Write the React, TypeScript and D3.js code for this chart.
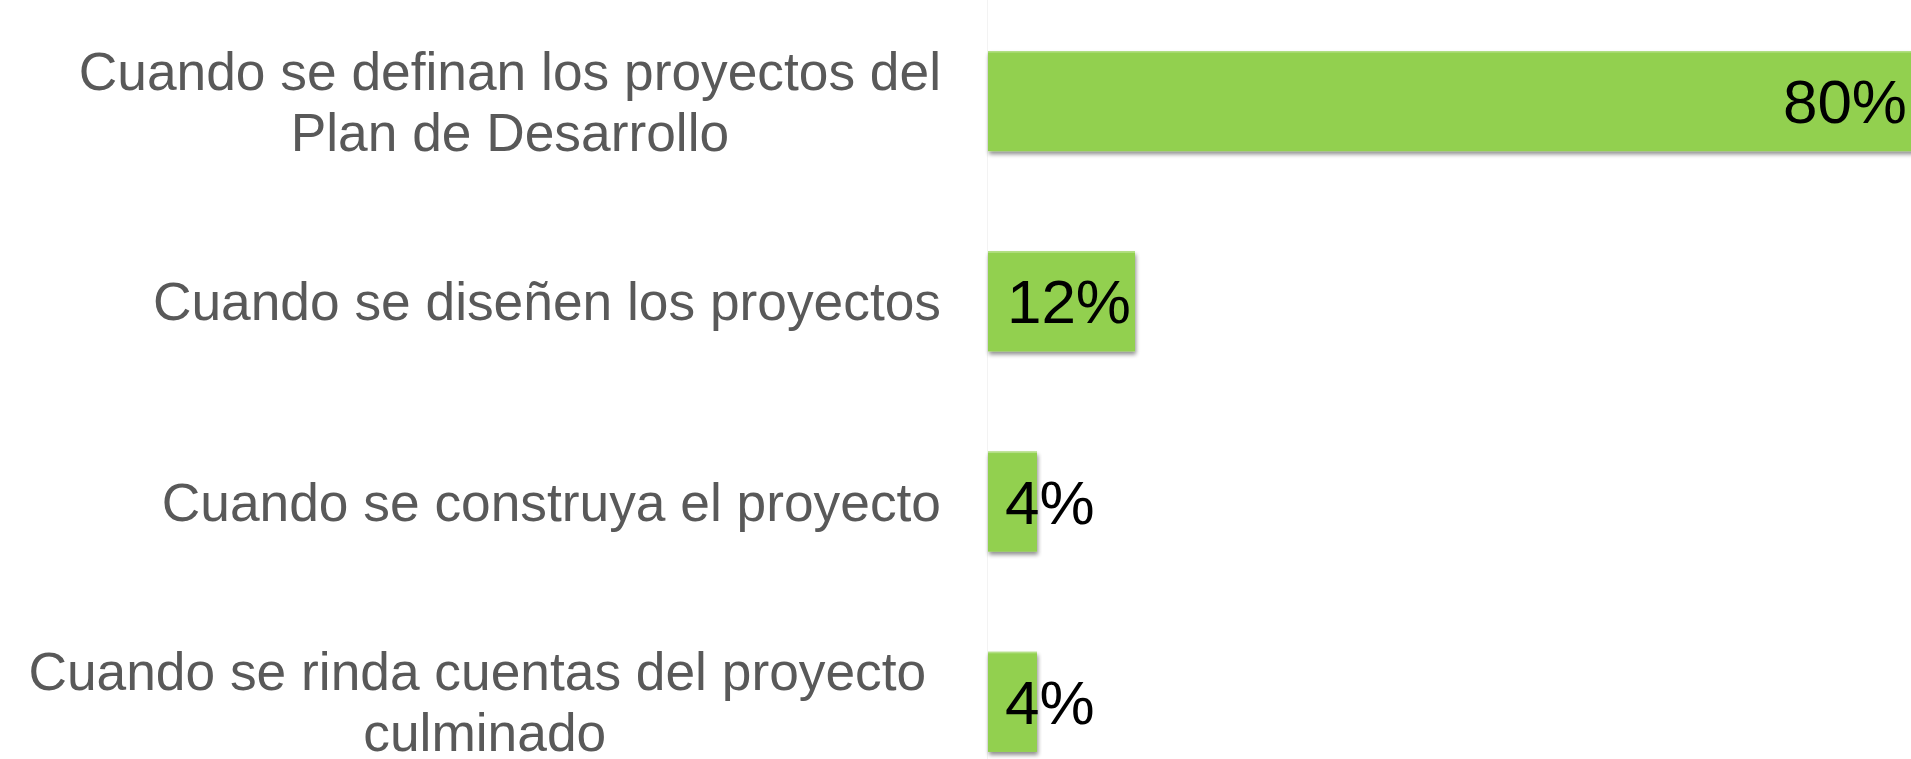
import React, { useEffect, useRef } from "react";
import * as d3 from "d3";

const categories: string[][] = [
  ["Cuando se definan los proyectos del", "Plan de Desarrollo"],
  ["Cuando se diseñen los proyectos"],
  ["Cuando se construya el proyecto"],
  ["Cuando se rinda cuentas del proyecto ", "culminado"],
];
const values: number[] = [80, 12, 4, 4];
const valueLabels: string[] = ["80%", "12%", "4%", "4%"];

const W = 1911;
const H = 759;

export default function App() {
  const ref = useRef<SVGSVGElement | null>(null);

  useEffect(() => {
    document.body.style.margin = "0";
    const svg = d3.select(ref.current);
    svg.selectAll("*").remove();

    const x0 = 988;
    const x = d3.scaleLinear().domain([0, 80]).range([x0, 1968]);
    const y = d3
      .scaleBand<number>()
      .domain(values.map((_, i) => i))
      .range([1, 802])
      .paddingInner(0.5)
      .paddingOuter(0.25);

    const defs = svg.append("defs");
    const f = defs
      .append("filter")
      .attr("id", "shadow")
      .attr("x", "-10%")
      .attr("y", "-10%")
      .attr("width", "120%")
      .attr("height", "130%");
    f.append("feGaussianBlur").attr("in", "SourceAlpha").attr("stdDeviation", 2).attr("result", "b");
    f.append("feOffset").attr("in", "b").attr("dx", 1).attr("dy", 3).attr("result", "o");
    f.append("feComponentTransfer")
      .attr("in", "o")
      .attr("result", "s")
      .append("feFuncA")
      .attr("type", "linear")
      .attr("slope", 0.45);
    const m = f.append("feMerge");
    m.append("feMergeNode").attr("in", "s");
    m.append("feMergeNode").attr("in", "SourceGraphic");

    svg.append("rect").attr("width", W).attr("height", H).attr("fill", "#ffffff");

    // faint axis line
    svg
      .append("line")
      .attr("x1", x0 - 0.5)
      .attr("x2", x0 - 0.5)
      .attr("y1", 0)
      .attr("y2", H)
      .attr("stroke", "#f3f3f3")
      .attr("stroke-width", 1);

    const g = svg.append("g");
    values.forEach((v, i) => {
      const yy = y(i)!;
      const bw = y.bandwidth();
      g.append("rect")
        .attr("x", x(0))
        .attr("y", yy)
        .attr("width", x(v) - x(0))
        .attr("height", bw)
        .attr("fill", "#92d050")
        .attr("filter", "url(#shadow)");
      g.append("rect")
        .attr("x", x(0))
        .attr("y", yy)
        .attr("width", x(v) - x(0))
        .attr("height", 1.5)
        .attr("fill", "#b3df85");
    });

    // value labels
    const fs = 62;
    values.forEach((v, i) => {
      const cy = y(i)! + y.bandwidth() / 2;
      const t = svg
        .append("text")
        .attr("font-family", "'Liberation Sans', Arial, sans-serif")
        .attr("font-size", fs)
        .attr("fill", "#000000")
        .attr("y", cy + fs * 0.355)
        .text(valueLabels[i]);
      const tw = (t.node() as SVGTextElement).getComputedTextLength();
      const endX = Math.min(x(v), W) - 4;
      const startX = Math.max(endX - tw, x0 + 17);
      t.attr("x", startX);
    });

    // category labels
    const cfs = 53.3;
    const lh = 61;
    const right = 941;
    categories.forEach((lines, i) => {
      const cy = y(i)! + y.bandwidth() / 2;
      const texts = lines.map((ln, j) =>
        svg
          .append("text")
          .attr("font-family", "'Liberation Sans', Arial, sans-serif")
          .attr("font-size", cfs)
          .attr("fill", "#595959")
          .attr("text-anchor", "middle")
          .style("white-space", "pre")
          .attr("y", cy + (j - (lines.length - 1) / 2) * lh + cfs * 0.355)
          .text(ln)
      );
      const widths = texts.map((t) => (t.node() as SVGTextElement).getComputedTextLength());
      const bw = Math.max(...widths);
      const cx = right - bw / 2;
      texts.forEach((t) => t.attr("x", cx));
    });
  }, []);

  return (
    <svg
      ref={ref}
      width={W}
      height={H}
      style={{ display: "block", position: "absolute", left: 0, top: 0 }}
    />
  );
}
